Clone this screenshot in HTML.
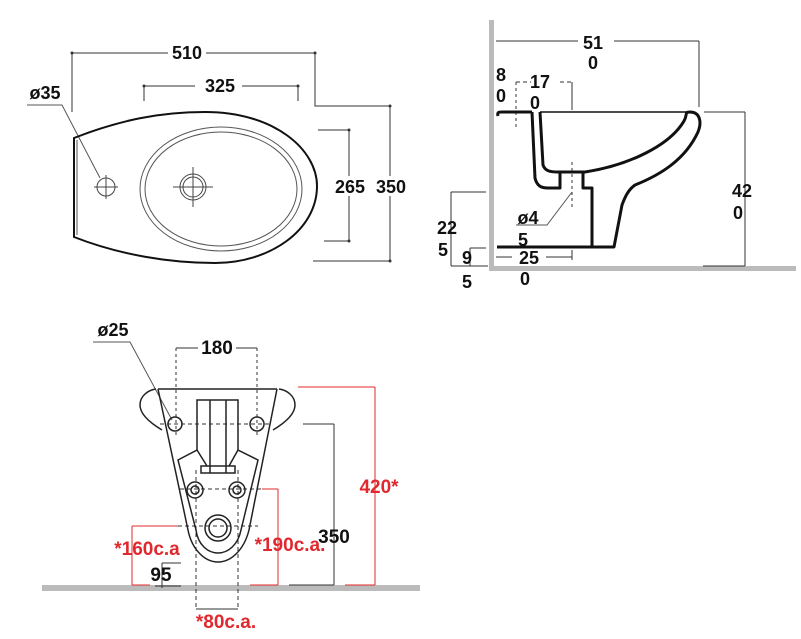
<!DOCTYPE html>
<html><head><style>
html,body{margin:0;padding:0;background:#fff;}
svg{display:block;}
text{font-family:"Liberation Sans",Arial,sans-serif;font-weight:bold;font-size:18px;fill:#111;}
.r{fill:#e0282e;}
</style></head><body>
<svg width="801" height="639" viewBox="0 0 801 639" xmlns="http://www.w3.org/2000/svg">
<g stroke="#333" stroke-width="1" fill="none">
<line x1="72" y1="53" x2="168" y2="53"/><line x1="206" y1="53" x2="315" y2="53"/>
<line x1="72" y1="53" x2="72" y2="112"/>
<polyline points="315,53 315,106 390,106 390,261 313,261"/>
<line x1="144" y1="86" x2="195" y2="86"/><line x1="242" y1="86" x2="298" y2="86"/>
<line x1="144" y1="86" x2="144" y2="101"/><line x1="298" y1="86" x2="298" y2="101"/>
<polyline points="318,130 349,130 349,241 324,241"/>
<polyline points="27,105 62,105 100,178" stroke="#555"/>
</g>
<g fill="#333"><circle cx="72" cy="53" r="1.5"/><circle cx="315" cy="53" r="1.5"/><circle cx="144" cy="86" r="1.5"/><circle cx="298" cy="86" r="1.5"/><circle cx="390" cy="106" r="1.5"/><circle cx="390" cy="261" r="1.5"/><circle cx="349" cy="130" r="1.5"/><circle cx="349" cy="241" r="1.5"/></g>
<path d="M74,138 C120,120 160,112 205,112 C275,112 317,150 317,186 C317,230 270,263 215,263 C170,263 120,255 74,237 Z" fill="none" stroke="#111" stroke-width="2"/>
<line x1="77" y1="140" x2="77" y2="235" stroke="#555" stroke-width="1"/>
<ellipse cx="221" cy="189" rx="81" ry="62" fill="none" stroke="#555" stroke-width="1"/>
<ellipse cx="221" cy="189" rx="76" ry="57" fill="none" stroke="#555" stroke-width="1"/>
<g stroke="#444" fill="none" stroke-width="1">
<circle cx="193" cy="187" r="13"/><circle cx="193" cy="187" r="10"/>
<line x1="173" y1="187" x2="213" y2="187"/><line x1="193" y1="167" x2="193" y2="207"/>
<circle cx="106" cy="187" r="9"/>
<line x1="94" y1="187" x2="118" y2="187"/><line x1="106" y1="175" x2="106" y2="199"/>
</g>
<rect x="335" y="176" width="30" height="20" fill="#fff"/>
<rect x="376" y="176" width="30" height="20" fill="#fff"/>
<text x="187" y="59" text-anchor="middle">510</text>
<text x="220" y="92" text-anchor="middle">325</text>
<text x="45" y="99" text-anchor="middle">ø35</text>
<text x="350" y="193" text-anchor="middle">265</text>
<text x="391" y="193" text-anchor="middle">350</text>

<rect x="489" y="20" width="5" height="250" fill="#bbb"/>
<rect x="489" y="266" width="307" height="5" fill="#bbb"/>
<g stroke="#333" stroke-width="1" fill="none">
<line x1="496" y1="41" x2="578" y2="41"/><line x1="614" y1="41" x2="699" y2="41"/>
<line x1="699" y1="41" x2="699" y2="107"/>
<line x1="516" y1="82" x2="531" y2="82" stroke-dasharray="4,3"/><line x1="560" y1="82" x2="572" y2="82" stroke-dasharray="4,3"/>
<line x1="516" y1="82" x2="516" y2="130" stroke-dasharray="3,3"/>
<line x1="572" y1="82" x2="572" y2="110"/>
<line x1="704" y1="112" x2="745" y2="112"/><line x1="745" y1="112" x2="745" y2="266"/><line x1="703" y1="266" x2="745" y2="266"/>
<line x1="451" y1="192" x2="486" y2="192"/><line x1="451" y1="192" x2="451" y2="266"/><line x1="451" y1="266" x2="488" y2="266"/>
<line x1="470" y1="248" x2="486" y2="248"/><line x1="470" y1="248" x2="470" y2="266"/>
<line x1="496" y1="257" x2="512" y2="257"/><line x1="546" y1="257" x2="572" y2="257"/><line x1="572" y1="250" x2="572" y2="260"/>
<line x1="572" y1="162" x2="572" y2="207" stroke-dasharray="3,3"/>
<polyline points="516,225 547,225 572,192" stroke="#555"/>
</g>
<g fill="none" stroke="#111" stroke-width="3" stroke-linejoin="round">
<path d="M498,116 C497,112 499,112 502,112 L532,112"/>
<path d="M532,112 L535,178 C537,186 541,188 548,188 L560,188 L560,172 L583,172 L583,188 L592,188 L592,247"/>
<path d="M540,112 L543,165 C545,171 550,172 558,172 L585,172 C630,165 670,145 684,121 C688,114 684,112 690,112 C700,112 702,122 698,132 C685,160 660,175 635,185 C628,190 625,197 622,205 L614,247 L497,247"/>
</g>
<line x1="540" y1="112" x2="690" y2="112" stroke="#111" stroke-width="1.5"/>
<line x1="500" y1="112" x2="532" y2="112" stroke="#111" stroke-width="2"/>
<text x="593" y="49" text-anchor="middle">51</text>
<text x="593" y="69" text-anchor="middle">0</text>
<text x="501" y="81" text-anchor="middle">8</text>
<text x="501" y="102" text-anchor="middle">0</text>
<text x="540" y="88" text-anchor="middle">17</text>
<text x="535" y="109" text-anchor="middle">0</text>
<text x="528" y="224" text-anchor="middle">ø4</text>
<text x="523" y="246" text-anchor="middle">5</text>
<text x="447" y="234" text-anchor="middle">22</text>
<text x="443" y="256" text-anchor="middle">5</text>
<text x="467" y="264" text-anchor="middle">9</text>
<text x="467" y="288" text-anchor="middle">5</text>
<text x="529" y="264" text-anchor="middle">25</text>
<text x="525" y="285" text-anchor="middle">0</text>
<text x="742" y="197" text-anchor="middle">42</text>
<text x="738" y="219" text-anchor="middle">0</text>

<rect x="42" y="585" width="378" height="6" fill="#bbb"/>
<g stroke="#333" stroke-width="1" fill="none">
<line x1="176" y1="348" x2="198" y2="348"/><line x1="236" y1="348" x2="257" y2="348"/>
<line x1="176" y1="348" x2="176" y2="436" stroke-dasharray="3,3"/><line x1="257" y1="348" x2="257" y2="436" stroke-dasharray="3,3"/>
<polyline points="93,342 130,342 172,420" stroke="#555"/>
<line x1="303" y1="424" x2="334" y2="424"/><line x1="334" y1="424" x2="334" y2="585"/><line x1="289" y1="585" x2="334" y2="585"/>
<line x1="162" y1="563" x2="181" y2="563"/><line x1="162" y1="563" x2="162" y2="588"/><line x1="155" y1="586" x2="181" y2="586"/>
<line x1="196" y1="470" x2="196" y2="610" stroke-dasharray="4,3"/><line x1="238" y1="470" x2="238" y2="610" stroke-dasharray="4,3"/>
<line x1="196" y1="609" x2="238" y2="609"/>
<line x1="160" y1="424" x2="270" y2="424" stroke-dasharray="4,3"/>
<line x1="180" y1="489" x2="262" y2="489" stroke-dasharray="4,3"/>
<line x1="178" y1="526" x2="258" y2="526" stroke-dasharray="4,3"/>
</g>
<g stroke="#e0282e" stroke-width="1" fill="none">
<line x1="298" y1="387" x2="375" y2="387"/><line x1="375" y1="387" x2="375" y2="585"/><line x1="345" y1="585" x2="375" y2="585"/>
<line x1="262" y1="489" x2="278" y2="489"/><line x1="278" y1="489" x2="278" y2="585"/><line x1="250" y1="585" x2="278" y2="585"/>
<line x1="132" y1="526" x2="178" y2="526"/><line x1="132" y1="526" x2="132" y2="585"/><line x1="132" y1="585" x2="150" y2="585"/>
</g>
<g fill="none" stroke="#222" stroke-width="1.5">
<path d="M158,389 L277,389"/>
<path d="M156,389 C148,390 140,396 140,405 C140,415 152,424 162,430"/>
<path d="M279,389 C287,390 295,396 295,405 C295,415 283,424 273,430"/>
<path d="M158,389 L188,530 C192,550 205,562 218,562 C231,562 244,550 249,530 L277,389"/>
<path d="M197,400 L238,400 L238,450 L258,460 L241,530 C238,545 228,553 218,553 C208,553 198,545 196,530 L178,460 L197,450 Z"/>
<path d="M210,400 L210,473 M226,400 L226,473 M201,466 L235,466 L235,473 L201,473 Z M197,450 L207,466 M238,450 L229,466"/>
<circle cx="175" cy="424" r="7"/><circle cx="257" cy="424" r="7"/>
<circle cx="195" cy="490" r="8"/><circle cx="195" cy="490" r="4"/>
<circle cx="237" cy="490" r="8"/><circle cx="237" cy="490" r="4"/>
<circle cx="218" cy="528" r="13"/><circle cx="218" cy="528" r="9"/>
</g>
<text x="113" y="336" text-anchor="middle">ø25</text>
<text x="217" y="354" text-anchor="middle" style="font-size:19px">180</text>
<text x="379" y="493" text-anchor="middle" class="r" style="font-size:19px">420*</text>
<text x="334" y="543" text-anchor="middle" style="font-size:19px">350</text>
<text x="290" y="551" text-anchor="middle" class="r" style="font-size:19px">*190c.a.</text>
<text x="147" y="555" text-anchor="middle" class="r" style="font-size:19px">*160c.a</text>
<text x="161" y="581" text-anchor="middle" style="font-size:19px">95</text>
<text x="226" y="628" text-anchor="middle" class="r" style="font-size:19px">*80c.a.</text>
</svg>
</body></html>
